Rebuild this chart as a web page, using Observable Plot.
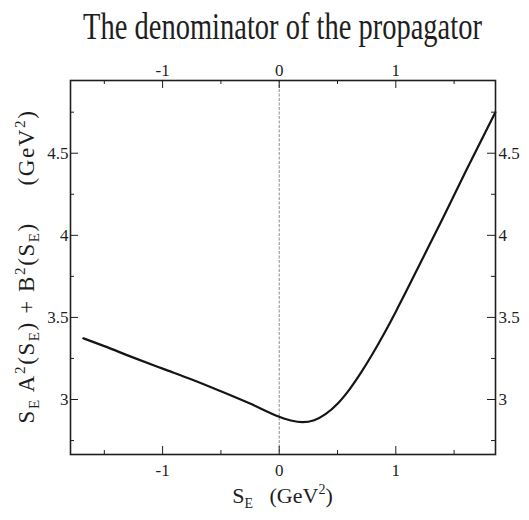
<!DOCTYPE html>
<html>
<head>
<meta charset="utf-8">
<script src="https://cdn.jsdelivr.net/npm/d3@7"></script>
<script src="https://cdn.jsdelivr.net/npm/@observablehq/plot@0.6"></script>
<style>
  html, body { margin: 0; padding: 0; background: #fff; }
  #chart { position: relative; width: 529px; height: 520px; overflow: hidden; font-family: "Liberation Serif", "DejaVu Serif", serif; }
  #title { position: absolute; left: 70px; width: 425px; top: 13px; text-align: center;
           font-size: 28.5px; line-height: 28.5px; color: #1e1e1e; white-space: nowrap;
           transform: scaleY(1.35); }
  #plot { position: absolute; left: 0; top: 50px; }
  #plot svg, #plot svg text { font-family: "Liberation Serif", "DejaVu Serif", serif; }
</style>
</head>
<body>
<div id="chart">
  <div id="title">The denominator of the propagator</div>
  <div id="plot"></div>
</div>
<script>
// Euclidean momentum squared S_E (GeV^2)
const sE = [-1.68, -1.5, -1.25, -1.0, -0.75, -0.5, -0.25, 0, 0.1, 0.2, 0.3, 0.4, 0.5, 0.6, 0.7, 0.8, 0.9, 1.0, 1.1, 1.2, 1.4, 1.6, 1.854];
// S_E A^2(S_E) + B^2(S_E) (GeV^2)
const denom = [3.373, 3.325, 3.255, 3.188, 3.122, 3.05, 2.975, 2.895, 2.872, 2.862, 2.874, 2.912, 2.974, 3.059, 3.162, 3.277, 3.402, 3.535, 3.674, 3.816, 4.10, 4.39, 4.75];

const xMajor = [-1, 0, 1];
const xMinor = [-1.5, -0.5, 0.5, 1.5];
const yMajor = [3, 3.5, 4, 4.5];
const yMinor = [2.75, 3.25, 3.75, 4.25, 4.75];
const xDomain = [-1.79, 1.855];
const yDomain = [2.665, 4.943];

const curve = sE.map((s, i) => ({s, d: denom[i]}));

const W = 529, H = 470;
const mT = 30, mB = 66, mL = 70, mR = 34;
const innerW = W - mL - mR, innerH = H - mT - mB;
const ink = "#1e1e1e";
const fmt = d => String(d);

const major = 8, minor = 4;

const svg = Plot.plot({
  width: W,
  height: H,
  marginTop: mT,
  marginBottom: mB,
  marginLeft: mL,
  marginRight: mR,
  style: {fontFamily: "'Liberation Serif', serif", fontSize: "17px", color: ink, background: "#fff"},
  x: {domain: xDomain, label: null},
  y: {domain: yDomain, label: null},
  marks: [
    Plot.ruleX([0], {stroke: "#8a8a8a", strokeWidth: 1, strokeDasharray: "3,1.5"}),
    // inward ticks on all four sides
    Plot.tickX(xMajor, {x: d => d, insetTop: innerH - major, stroke: ink, strokeWidth: 1}),
    Plot.tickX(xMinor, {x: d => d, insetTop: innerH - minor, stroke: ink, strokeWidth: 1}),
    Plot.tickX(xMajor, {x: d => d, insetBottom: innerH - major, stroke: ink, strokeWidth: 1}),
    Plot.tickX(xMinor, {x: d => d, insetBottom: innerH - minor, stroke: ink, strokeWidth: 1}),
    Plot.tickY(yMajor, {y: d => d, insetRight: innerW - major, stroke: ink, strokeWidth: 1}),
    Plot.tickY(yMinor, {y: d => d, insetRight: innerW - minor, stroke: ink, strokeWidth: 1}),
    Plot.tickY(yMajor, {y: d => d, insetLeft: innerW - major, stroke: ink, strokeWidth: 1}),
    Plot.tickY(yMinor, {y: d => d, insetLeft: innerW - minor, stroke: ink, strokeWidth: 1}),
    Plot.axisX({anchor: "bottom", ticks: xMajor, tickSize: 0, tickPadding: 9, tickFormat: fmt, label: null, fontFamily: "Liberation Serif"}),
    Plot.axisX({anchor: "top", ticks: xMajor, tickSize: 0, tickPadding: 5, tickFormat: fmt, label: null, fontFamily: "Liberation Serif"}),
    Plot.axisY({anchor: "left", ticks: yMajor, tickSize: 0, tickPadding: 2, tickFormat: fmt, label: null, fontFamily: "Liberation Serif"}),
    Plot.axisY({anchor: "right", ticks: yMajor, tickSize: 0, tickPadding: 3, tickFormat: fmt, label: null, fontFamily: "Liberation Serif"}),
    Plot.line(curve, {x: "s", y: "d", curve: "monotone-x", stroke: "#151515", strokeWidth: 2.2}),
    Plot.frame({stroke: ink, strokeWidth: 1.6})
  ]
});

// Axis titles with sub- and superscripts
function richLabel(sel, parts, size, small) {
  let shift = 0;
  for (const p of parts) {
    const target = p.sub ? 5 : p.sup ? -9 : 0;
    sel.append("tspan")
      .attr("dy", target - shift)
      .attr("font-size", p.sub || p.sup ? small : size)
      .text(p.t);
    shift = target;
  }
}

const root = d3.select(svg);
const xl = root.append("text")
  .attr("x", mL + innerW / 2)
  .attr("y", 453)
  .attr("text-anchor", "middle")
  .attr("fill", ink)
  .style("white-space", "pre")
  .attr("font-family", "Liberation Serif, serif");
richLabel(xl, [{t: "S"}, {t: "E", sub: true}, {t: "   (GeV"}, {t: "2", sup: true}, {t: ")"}], "22px", "14px");

const yl = root.append("text")
  .attr("transform", `translate(34,${216.5}) rotate(-90)`)
  .attr("text-anchor", "middle")
  .attr("fill", ink)
  .style("white-space", "pre")
  .style("letter-spacing", "1.6px")
  .attr("font-family", "Liberation Serif, serif");
richLabel(yl, [
  {t: "S"}, {t: "E", sub: true}, {t: " A"}, {t: "2", sup: true}, {t: "(S"}, {t: "E", sub: true},
  {t: ") + B"}, {t: "2", sup: true}, {t: "(S"}, {t: "E", sub: true}, {t: ")     (GeV"}, {t: "2", sup: true}, {t: ")"}
], "23px", "15px");

document.getElementById("plot").appendChild(svg);
</script>
</body>
</html>
